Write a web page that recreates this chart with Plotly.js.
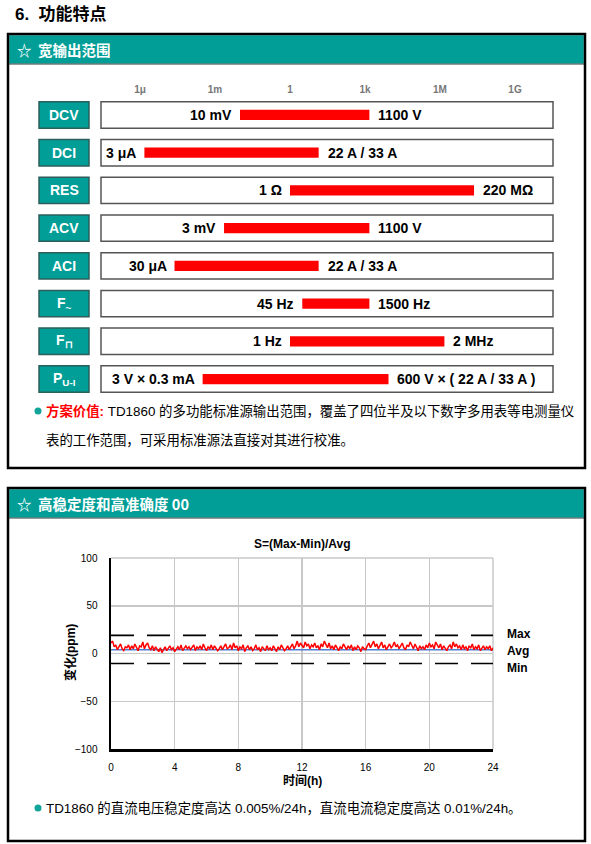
<!DOCTYPE html>
<html><head><meta charset="utf-8">
<script src="https://cdn.plot.ly/plotly-3.0.1.min.js"></script>
<style>html,body{margin:0;padding:0;background:#fff}#chart{width:591px;height:844px}</style>
</head><body><div id="chart"></div>
<script>
// ---------- data: output ranges ----------
const rangeNames = ['DCV','DCI','RES','ACV','ACI','F<sub>~</sub>','F<sub>⊓</sub>','P<sub>U-I</sub>'];
const rangeStart = [0.01, 1.5e-6, 1, 2.3e-3, 2.4e-5, 3.1, 1, 3.2e-4];
const rangeEnd   = [1500, 14, 2.3e7, 1500, 14, 1500, 1.5e6, 8.7e3];
const startLabels = ['10 mV','3 μA','1 Ω','3 mV','30 μA','45 Hz','1 Hz','3 V × 0.3 mA'];
const endLabels   = ['1100 V','22 A / 33 A','220 MΩ','1100 V','22 A / 33 A','1500 Hz','2 MHz','600 V × ( 22 A / 33 A )'];
const scaleVals   = [1e-6, 1e-3, 1, 1e3, 1e6, 1e9];
const scaleText   = ['1μ','1m','1','1k','1M','1G'];

// ---------- data: 24h stability ----------
const hourTicks = [0,4,8,12,16,20,24];
const ppmTicks = [-100,-50,0,50,100];
const stabilityPpm = [
 11,13,7,9,4,8,10,5,3,7,6,9,4,8,5,10,6,3,8,7,12,5,9,11,6,
 4,8,3,7,5,2,6,1,4,7,3,5,8,4,6,2,5,7,4,9,3,6,8,5,7,
 4,6,9,3,7,5,8,4,10,6,3,7,5,9,4,8,6,3,5,8,4,7,10,5,6,
 9,4,11,6,8,3,7,5,9,2,6,8,4,7,3,5,9,4,6,2,7,5,3,8,4,
 6,3,8,5,2,7,4,9,6,3,5,8,4,7,10,5,8,13,7,11,9,6,12,8,10,
 5,9,7,11,6,8,4,10,7,13,9,6,11,5,8,4,9,6,3,7,5,10,6,4,8,
 5,9,3,7,4,8,6,2,7,5,4,8,11,6,9,13,7,10,5,8,12,6,9,4,7,
 10,6,8,12,7,9,5,8,11,6,4,9,7,12,8,5,10,6,3,8,5,7,4,9,6,
 11,7,9,5,12,8,6,10,4,8,6,3,7,9,5,12,7,10,6,8,4,9,5,7,3,
 8,6,10,4,7,5,9,3,6,8,4,7,5,8,3,6
];
const sampleStepH = 0.1;
const hours = stabilityPpm.map((_, i) => +(i * sampleStepH).toFixed(2));
const maxLevel = 19, avgLevel = 4, minLevel = -10.5;

// ---------- geometry helpers ----------
const W = 591, H = 844;
const X = p => p / W, Y = p => 1 - p / H;
const TEAL = '#009E96';
const rows = rangeNames.map((_, i) => i);

const traces = [
  {type:'bar', orientation:'h', y: rows, base: rangeStart,
   x: rangeStart.map((s, i) => rangeEnd[i] - s),
   width: 0.27, marker:{color:'#FF0000', line:{width:0}},
   xaxis:'x', yaxis:'y', hoverinfo:'skip', showlegend:false},
  {type:'scatter', mode:'lines', x:[0,24], y:[maxLevel,maxLevel], xaxis:'x2', yaxis:'y2',
   line:{color:'#000', width:1.6, dash:'23px,13px'}, hoverinfo:'skip', showlegend:false},
  {type:'scatter', mode:'lines', x:[0,24], y:[minLevel,minLevel], xaxis:'x2', yaxis:'y2',
   line:{color:'#000', width:1.6, dash:'23px,13px'}, hoverinfo:'skip', showlegend:false},
  {type:'scatter', mode:'lines', x:[0,24], y:[avgLevel,avgLevel], xaxis:'x2', yaxis:'y2',
   line:{color:'#4F7FD0', width:1.5}, hoverinfo:'skip', showlegend:false},
  {type:'scatter', mode:'lines', x: hours, y: stabilityPpm, xaxis:'x2', yaxis:'y2',
   line:{color:'#FF0000', width:1.5}, hoverinfo:'skip', showlegend:false}
];

const shapes = [];
const annotations = [];
const latin = 'Liberation Sans, Arial, sans-serif';
const cjk = 'Liberation Sans, Noto Sans CJK SC, sans-serif';
function ann(o) { annotations.push(Object.assign({showarrow:false, xanchor:'center', yanchor:'middle'}, o)); }

// page title
ann({xref:'paper', yref:'paper', x:X(13), y:Y(14), xanchor:'left',
  text:'6.  功能特点', font:{family:cjk, size:17, color:'#000', weight:'bold'}});

// panels
function panel(top, bottom, title) {
  shapes.push({type:'rect', xref:'paper', yref:'paper', x0:X(9.2), x1:X(583.8), y0:Y(top + 1.2), y1:Y(top + 29.5),
    fillcolor:TEAL, line:{width:0}, layer:'below'});
  shapes.push({type:'line', xref:'paper', yref:'paper', x0:X(9), x1:X(584), y0:Y(top + 30), y1:Y(top + 30),
    line:{color:'#203c3a', width:1}});
  shapes.push({type:'rect', xref:'paper', yref:'paper', x0:X(8), x1:X(585), y0:Y(top), y1:Y(bottom),
    line:{color:'#000', width:2.5}, fillcolor:'rgba(0,0,0,0)'});
  ann({xref:'paper', yref:'paper', x:X(15), y:Y(top + 15.5), xanchor:'left',
    text:title, font:{family:'Noto Sans CJK SC, sans-serif', size:14.5, color:'#fff', weight:'bold'}});
}
panel(34, 468, '☆  宽输出范围');
panel(488, 841, '☆  高稳定度和高准确度 00');

// range rows
rows.forEach(i => {
  shapes.push({type:'rect', xref:'paper', yref:'y', x0:X(101), x1:X(553), y0:i - 0.35, y1:i + 0.35,
    fillcolor:'#fff', line:{color:'#555', width:1.5}, layer:'below'});
  shapes.push({type:'rect', xref:'paper', yref:'y', x0:X(39), x1:X(89), y0:i - 0.35, y1:i + 0.35,
    fillcolor:TEAL, line:{color:'#2c5f5b', width:1.5}, layer:'below'});
  ann({xref:'paper', yref:'y', x:X(64), y:i, text:rangeNames[i],
    font:{family:latin, size:14, color:'#fff', weight:'bold'}});
  ann({xref:'x', yref:'y', x:Math.log10(rangeStart[i]), y:i, text:startLabels[i],
    xanchor:'right', xshift:-6, font:{family:latin, size:14, color:'#000', weight:'bold'}});
  ann({xref:'x', yref:'y', x:Math.log10(rangeEnd[i]), y:i, text:endLabels[i],
    xanchor:'left', xshift:7, font:{family:latin, size:14, color:'#000', weight:'bold'}});
});

// bullets & notes
function bullet(py) {
  shapes.push({type:'circle', xref:'paper', yref:'paper', x0:X(34.5), x1:X(41.5), y0:Y(py + 3.5), y1:Y(py - 3.5),
    fillcolor:'#12A39A', line:{width:0}});
}
bullet(411);
ann({xref:'paper', yref:'paper', x:X(44), y:Y(411), xanchor:'left',
  text:"<b><span style='color:#FF0000'>方案价值:</span></b> TD1860 的多功能标准源输出范围，覆盖了四位半及以下数字多用表等电测量仪",
  font:{family:cjk, size:13.4, color:'#000'}});
ann({xref:'paper', yref:'paper', x:X(44), y:Y(440), xanchor:'left',
  text:'表的工作范围，可采用标准源法直接对其进行校准。', font:{family:cjk, size:13.4, color:'#000'}});
bullet(808);
ann({xref:'paper', yref:'paper', x:X(44), y:Y(808), xanchor:'left',
  text:'TD1860 的直流电压稳定度高达 0.005%/24h，直流电流稳定度高达 0.01%/24h。',
  font:{family:cjk, size:13.4, color:'#000'}});

// stability chart texts
ann({xref:'paper', yref:'paper', x:X(302), y:Y(544), text:'S=(Max-Min)/Avg',
  font:{family:latin, size:12, color:'#000', weight:'bold'}});
ann({xref:'paper', yref:'paper', x:X(302), y:Y(781), text:'时间(h)',
  font:{family:cjk, size:12, color:'#000', weight:'bold'}});
ann({xref:'paper', yref:'paper', x:X(70), y:Y(653), text:'变化(ppm)', textangle:-90,
  font:{family:cjk, size:12, color:'#000', weight:'bold'}});
[['Max',634],['Avg',651],['Min',668]].forEach(([t, py]) => ann({xref:'paper', yref:'paper',
  x:X(505), y:Y(py), xanchor:'left', text:t, font:{family:latin, size:12, color:'#000', weight:'bold'}}));

// chart frame (top & right edges)
shapes.push({type:'line', xref:'x2 domain', yref:'y2 domain', x0:0, x1:1, y0:1, y1:1, line:{color:'#c8c8c8', width:1.5}, layer:'below'});
shapes.push({type:'line', xref:'x2 domain', yref:'y2 domain', x0:1, x1:1, y0:0, y1:1, line:{color:'#c8c8c8', width:1.5}, layer:'below'});

const layout = {
  width: W, height: H, margin:{l:0, r:0, t:0, b:0},
  paper_bgcolor:'#fff', plot_bgcolor:'rgba(0,0,0,0)', showlegend:false,
  xaxis:{type:'log', domain:[X(101), X(553)], range:[-7.56, 10.52], anchor:'y', side:'top',
    tickvals: scaleVals, ticktext: scaleText, showgrid:false, zeroline:false, showline:false,
    ticks:'', tickfont:{family:latin, size:10, color:'#777', weight:'bold'}, fixedrange:true},
  yaxis:{domain:[Y(397.9), Y(96.1)], range:[7.5, -0.5], visible:false, anchor:'x', fixedrange:true},
  xaxis2:{domain:[X(111), X(493)], range:[0, 24], anchor:'y2', tickvals: hourTicks,
    showgrid:true, gridcolor:'#c8c8c8', gridwidth:1.5, zeroline:false,
    showline:true, linecolor:'#000', linewidth:2.5, ticks:'outside', ticklen:7, tickcolor:'rgba(0,0,0,0)',
    tickfont:{family:latin, size:10, color:'#000'}, fixedrange:true},
  yaxis2:{domain:[Y(749), Y(558)], range:[-100, 100], anchor:'x2', tickvals: ppmTicks,
    showgrid:true, gridcolor:'#c8c8c8', gridwidth:1.5, zeroline:false,
    showline:true, linecolor:'#000', linewidth:2.5, ticks:'outside', ticklen:9, tickcolor:'rgba(0,0,0,0)',
    tickfont:{family:latin, size:10, color:'#000'}, fixedrange:true},
  shapes, annotations
};

Plotly.newPlot('chart', traces, layout, {staticPlot:true, displayModeBar:false});
</script></body></html>
